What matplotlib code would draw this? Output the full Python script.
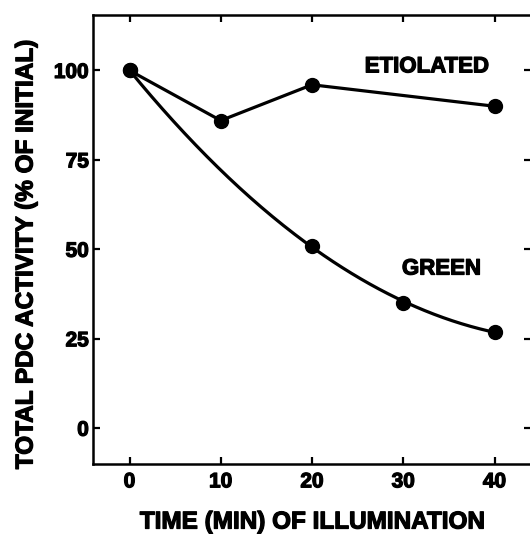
import matplotlib
matplotlib.use('Agg')

import matplotlib.pyplot as plt
import matplotlib.patheffects as pe
import numpy as np

# ---------------------------
# DADOS
# ---------------------------
etio_t = [0, 10, 20, 40]
etio_y = [100, 86, 96, 90]

green_t = [0, 20, 30, 40]
green_y = [100, 51, 35, 27]

xticks = [0, 10, 20, 30, 40]
yticks = [0, 25, 50, 75, 100]

plt.rcParams['font.family'] = ['Liberation Sans', 'DejaVu Sans']
plt.rcParams['font.weight'] = 'bold'

# traço extra para letras mais pesadas
heavy = [pe.withStroke(linewidth=0.9, foreground='black')]

# ---------------------------
# FIGURA
# ---------------------------
fig = plt.figure(figsize=(5.30, 5.34), dpi=100)
ax = fig.add_axes([93/530, 1 - 464/534, 438/530, 449/534])

# etiolated: segmentos retos
ax.plot(etio_t, etio_y, '-o', color='black', lw=2.3, ms=10, clip_on=False)

# green: curva suave ajustada aos pontos
coef = np.polyfit(green_t, green_y, 2)
tt = np.linspace(0, 40, 200)
ax.plot(tt, np.polyval(coef, tt), color='black', lw=2.3)
ax.plot(green_t, green_y, 'o', color='black', ms=10)

ax.text(32.6, 101, 'ETIOLATED', fontsize=16, fontweight='bold',
        ha='center', va='center', path_effects=heavy)
ax.text(34.2, 44.5, 'GREEN', fontsize=16, fontweight='bold',
        ha='center', va='center', path_effects=heavy)

ax.set_xlim(-4, 44)
ax.set_ylim(-10, 115.5)
ax.set_xticks(xticks)
ax.set_yticks(yticks)

for s in ax.spines.values():
    s.set_linewidth(1.8)

ax.tick_params(direction='in', length=5, width=1.6, top=True, right=True,
               labelsize=15, pad=3)
ax.tick_params(axis='x', pad=6)
for lab in ax.get_xticklabels() + ax.get_yticklabels():
    lab.set_fontweight('bold')
    lab.set_path_effects(heavy)

fig.text(312/530, 1 - 522/534, 'TIME (MIN) OF ILLUMINATION', fontsize=17.5,
         fontweight='bold', ha='center', va='center', path_effects=heavy)
fig.text(26/530, 1 - 255/534, 'TOTAL PDC ACTIVITY (% OF INITIAL)',
         fontsize=17.5, fontweight='bold', rotation=90, ha='center',
         va='center', path_effects=heavy)

fig.savefig('out.png', dpi=100)
